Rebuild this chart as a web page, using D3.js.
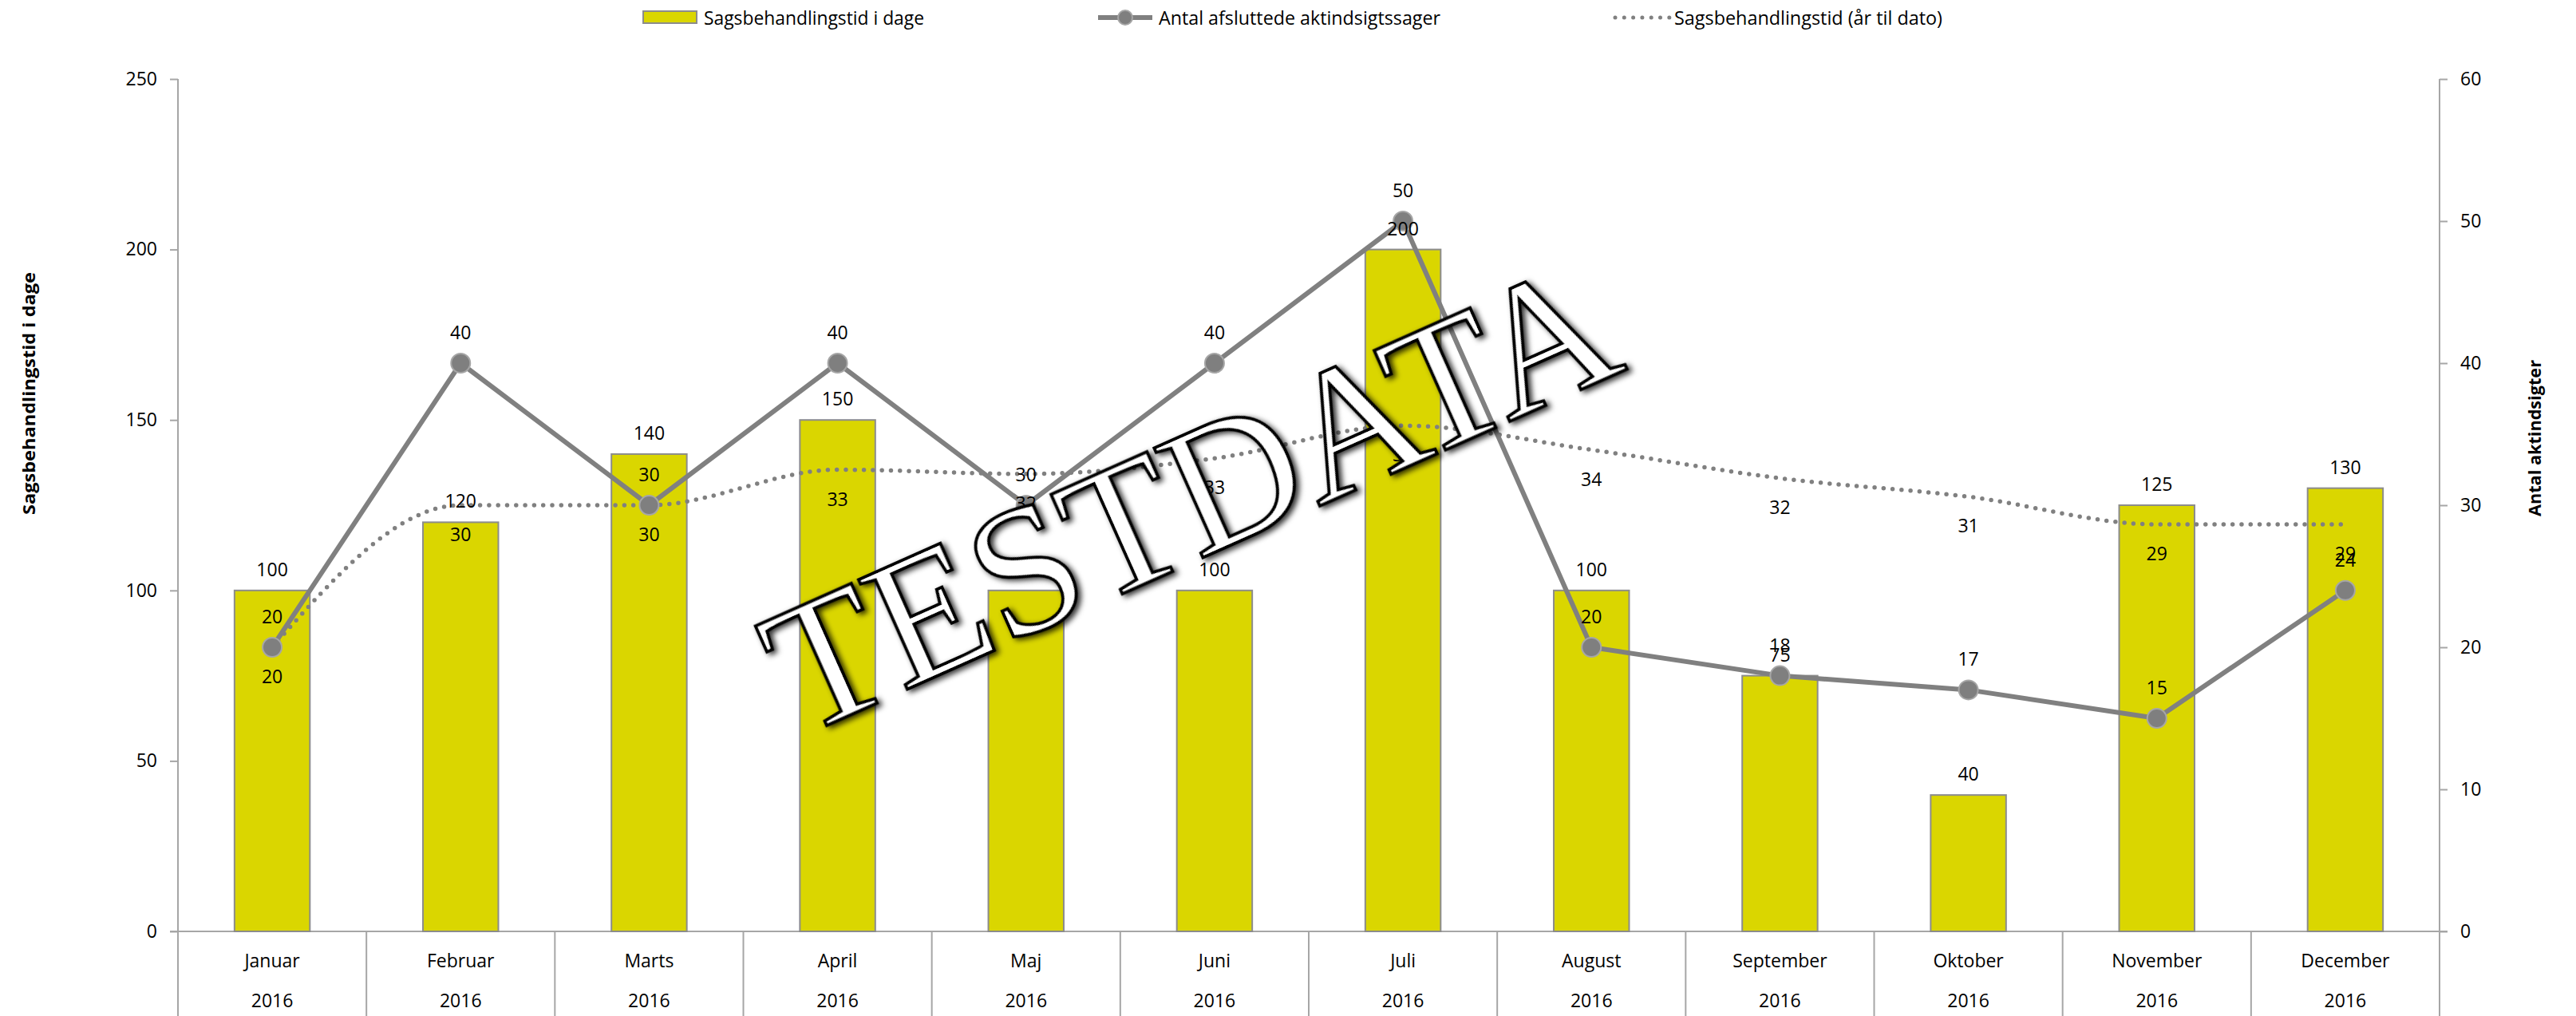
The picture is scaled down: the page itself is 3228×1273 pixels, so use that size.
<!DOCTYPE html>
<html>
<head>
<meta charset="utf-8">
<script src="https://cdn.jsdelivr.net/npm/d3@7"></script>
<style>
  html, body { margin: 0; padding: 0; background: #fff; }
  svg { display: block; }
  text { font-family: "Open Sans", "Liberation Sans", sans-serif; fill: #000; }
</style>
</head>
<body>
<svg id="chart" width="3228" height="1273"></svg>
<script>
// ---- data ----
const months = ["Januar","Februar","Marts","April","Maj","Juni","Juli","August","September","Oktober","November","December"];
const years = ["2016","2016","2016","2016","2016","2016","2016","2016","2016","2016","2016","2016"];
const sagsbehandlingstid = [100,120,140,150,100,100,200,100,75,40,125,130];
const antalAfsluttede = [20,40,30,40,30,40,50,20,18,17,15,24];
const sagsbehandlingstidYTD = [20,30,30,32.5,32.2,33.3,35.6,33.9,31.9,30.6,28.65,28.65];
const leftTicks = [0,50,100,150,200,250];
const rightTicks = [0,10,20,30,40,50,60];
const seriesNames = ["Sagsbehandlingstid i dage","Antal afsluttede aktindsigtssager","Sagsbehandlingstid (år til dato)"];
const leftTitle = "Sagsbehandlingstid i dage";
const rightTitle = "Antal aktindsigter";
const watermark = "TESTDATA";

// ---- layout ----
const W = 3228, H = 1273;
const plotLeft = 223, plotRight = 3057, plotTop = 99, plotBottom = 1167;
const axisColor = "#A6A6A6";
const barFill = "#DAD600", barStroke = "#8C8C8C";
const lineColor = "#808080";

const svg = d3.select("#chart");

const defs = svg.append("defs");
const f = defs.append("filter").attr("id","shadow").attr("x","-10%").attr("y","-10%").attr("width","120%").attr("height","130%");
f.append("feDropShadow").attr("dx",3).attr("dy",4).attr("stdDeviation",3.5).attr("flood-color","#000").attr("flood-opacity",0.8);

const x = d3.scaleBand().domain(months).range([plotLeft, plotRight]).paddingInner(0).paddingOuter(0);
const yL = d3.scaleLinear().domain([0,250]).range([plotBottom, plotTop]);
const yR = d3.scaleLinear().domain([0,60]).range([plotBottom, plotTop]);
const cx = m => x(m) + x.bandwidth()/2;
const barW = x.bandwidth() * 0.40;

// ---- axes ----
const gL = svg.append("g").attr("transform",`translate(${plotLeft},0)`)
  .call(d3.axisLeft(yL).tickValues(leftTicks).tickSize(10).tickPadding(16).tickSizeOuter(0));
const gR = svg.append("g").attr("transform",`translate(${plotRight},0)`)
  .call(d3.axisRight(yR).tickValues(rightTicks).tickSize(10).tickPadding(16).tickSizeOuter(0));
[gL,gR].forEach(g => {
  g.select(".domain").remove();
  g.selectAll(".tick line").attr("stroke",axisColor).attr("stroke-width",2);
  g.selectAll(".tick text").attr("font-size",23).attr("font-family","Open Sans").attr("fill","#000");
});
// vertical axis lines extending through category area
svg.append("line").attr("x1",plotLeft).attr("x2",plotLeft).attr("y1",plotTop).attr("y2",H)
  .attr("stroke",axisColor).attr("stroke-width",2);
svg.append("line").attr("x1",plotRight).attr("x2",plotRight).attr("y1",plotTop).attr("y2",H)
  .attr("stroke",axisColor).attr("stroke-width",2);
// zero baseline
svg.append("line").attr("x1",plotLeft-10).attr("x2",plotRight+10).attr("y1",yL(0)).attr("y2",yL(0))
  .attr("stroke",axisColor).attr("stroke-width",2);
// category separators
const seps = months.map(m => x(m)).concat([plotRight]);
svg.append("g").selectAll("line").data(seps).join("line")
  .attr("x1",d=>d).attr("x2",d=>d).attr("y1",plotBottom).attr("y2",H)
  .attr("stroke",axisColor).attr("stroke-width",2);
// category labels
svg.append("g").selectAll("text").data(months).join("text")
  .attr("x",d=>cx(d)).attr("y",1203).attr("text-anchor","middle").attr("dominant-baseline","central")
  .attr("font-size",23).text(d=>d);
svg.append("g").selectAll("text").data(years).join("text")
  .attr("x",(d,i)=>cx(months[i])).attr("y",1253).attr("text-anchor","middle").attr("dominant-baseline","central")
  .attr("font-size",23).text(d=>d);

// axis titles
svg.append("text").attr("transform",`translate(35,493) rotate(-90)`)
  .attr("text-anchor","middle").attr("dominant-baseline","central")
  .attr("font-size",22).attr("font-weight","bold")
  .attr("textLength",304).attr("lengthAdjust","spacingAndGlyphs").text(leftTitle);
svg.append("text").attr("transform",`translate(3175,549) rotate(-90)`)
  .attr("text-anchor","middle").attr("dominant-baseline","central")
  .attr("font-size",22).attr("font-weight","bold")
  .attr("textLength",196).attr("lengthAdjust","spacingAndGlyphs").text(rightTitle);

// ---- bars ----
svg.append("g").selectAll("rect").data(sagsbehandlingstid).join("rect")
  .attr("x",(d,i)=>cx(months[i]) - barW/2).attr("width",barW)
  .attr("y",d=>yL(d)).attr("height",d=>yL(0)-yL(d))
  .attr("fill",barFill).attr("stroke",barStroke).attr("stroke-width",2);

// ---- dotted YTD line ----
const dotted = d3.line().x((d,i)=>cx(months[i])).y(d=>yR(d)).curve(d3.curveMonotoneX);
svg.append("path").datum(sagsbehandlingstidYTD).attr("d",dotted)
  .attr("fill","none").attr("stroke",lineColor).attr("stroke-width",5.5)
  .attr("stroke-dasharray","0 11.3").attr("stroke-linecap","round");

// ---- solid line ----
const solid = d3.line().x((d,i)=>cx(months[i])).y(d=>yR(d));
svg.append("path").datum(antalAfsluttede).attr("d",solid)
  .attr("fill","none").attr("stroke",lineColor).attr("stroke-width",6).attr("stroke-linejoin","round");
svg.append("g").selectAll("circle").data(antalAfsluttede).join("circle")
  .attr("cx",(d,i)=>cx(months[i])).attr("cy",d=>yR(d)).attr("r",12)
  .attr("fill","#7F7F7F").attr("stroke","#A6A6A6").attr("stroke-width",2);

// ---- data labels ----
const fmt = v => String(Math.round(v));
svg.append("g").selectAll("text").data(sagsbehandlingstid).join("text")
  .attr("x",(d,i)=>cx(months[i])).attr("y",d=>yL(d)-27)
  .attr("text-anchor","middle").attr("dominant-baseline","central").attr("font-size",23).text(fmt);
svg.append("g").selectAll("text").data(antalAfsluttede).join("text")
  .attr("x",(d,i)=>cx(months[i])).attr("y",d=>yR(d)-39)
  .attr("text-anchor","middle").attr("dominant-baseline","central").attr("font-size",23).text(fmt);
svg.append("g").selectAll("text").data(sagsbehandlingstidYTD).join("text")
  .attr("x",(d,i)=>cx(months[i])).attr("y",d=>yR(d)+36)
  .attr("text-anchor","middle").attr("dominant-baseline","central").attr("font-size",23).text(fmt);

// ---- legend ----
const lg = svg.append("g");
lg.append("rect").attr("x",806).attr("y",14).attr("width",67).attr("height",15)
  .attr("fill",barFill).attr("stroke",barStroke).attr("stroke-width",2);
lg.append("text").attr("x",882).attr("y",22).attr("dominant-baseline","central").attr("font-size",23)
  .attr("textLength",276).attr("lengthAdjust","spacingAndGlyphs").text(seriesNames[0]);
lg.append("line").attr("x1",1376).attr("x2",1444).attr("y1",22).attr("y2",22)
  .attr("stroke",lineColor).attr("stroke-width",6);
lg.append("circle").attr("cx",1410).attr("cy",22).attr("r",9)
  .attr("fill","#7F7F7F").attr("stroke","#A6A6A6").attr("stroke-width",2);
lg.append("text").attr("x",1452).attr("y",22).attr("dominant-baseline","central").attr("font-size",23)
  .attr("textLength",353).attr("lengthAdjust","spacingAndGlyphs").text(seriesNames[1]);
lg.append("line").attr("x1",2024).attr("x2",2092).attr("y1",22).attr("y2",22)
  .attr("stroke",lineColor).attr("stroke-width",5).attr("stroke-dasharray","0 11.3").attr("stroke-linecap","round");
lg.append("text").attr("x",2098).attr("y",22).attr("dominant-baseline","central").attr("font-size",23)
  .attr("textLength",336).attr("lengthAdjust","spacingAndGlyphs").text(seriesNames[2]);

// ---- watermark ----
svg.append("text").attr("transform","translate(1522,692) rotate(-24)")
  .attr("text-anchor","middle")
  .attr("font-size",228)
  .attr("stroke","#000").attr("stroke-width",4)
  .attr("filter","url(#shadow)")
  .style("font-family","'Liberation Serif', 'Times New Roman', serif").style("fill","#fff")
  .text(watermark);
</script>
</body>
</html>
